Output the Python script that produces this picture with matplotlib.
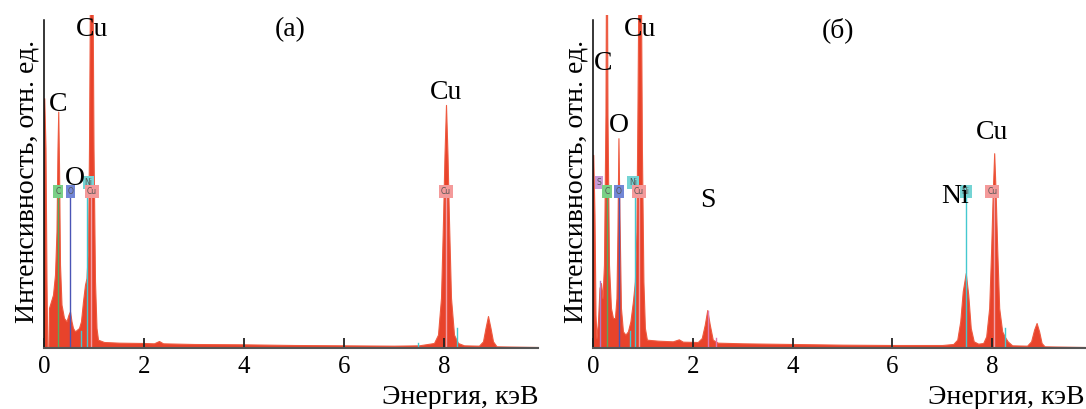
import matplotlib
matplotlib.use("Agg")
import matplotlib.pyplot as plt

plt.rcParams['font.family'] = ['Liberation Serif', 'DejaVu Serif']

# spectrum (a): energy, keV / intensity, arb. units (0..100 = axis height)
e_a = [0.0, 0.005, 0.03, 0.05, 0.065, 0.09, 0.10, 0.14, 0.18, 0.22, 0.25, 0.27,
       0.285, 0.30, 0.32, 0.35, 0.40, 0.45, 0.49, 0.52, 0.55, 0.58, 0.62, 0.66,
       0.70, 0.74, 0.78, 0.82, 0.85, 0.88, 0.90, 0.92, 0.97, 0.99, 1.02, 1.05,
       1.08, 1.2, 1.5, 2.0, 2.2, 2.3, 2.38, 3.0, 4.0, 5.0, 6.0, 7.0, 7.5, 7.8,
       7.88, 7.94, 7.98, 8.01, 8.04, 8.07, 8.10, 8.14, 8.20, 8.28, 8.4, 8.7,
       8.78, 8.83, 8.88, 8.93, 8.98, 9.05, 9.88]
i_a = [0, 75, 60, 20, 0, 0, 12, 14, 16, 22, 35, 60,
       71, 55, 25, 13, 9, 8, 10, 11, 8, 6, 5, 5.5,
       6, 8, 14, 19, 21, 30, 60, 110, 110, 60, 20, 6,
       2.5, 1.8, 1.6, 1.5, 1.4, 2.1, 1.4, 1.2, 1.1, 0.9, 0.8, 0.7, 0.8, 1.5,
       4, 15, 38, 58, 73, 58, 38, 15, 4, 1.5, 0.8, 0.7,
       2, 6, 9.6, 6, 2, 0.5, 0.3]

# spectrum (б)
e_b = [0.0, 0.005, 0.03, 0.05, 0.07, 0.10, 0.13, 0.16, 0.19, 0.22, 0.25, 0.26,
       0.28, 0.29, 0.32, 0.36, 0.40, 0.44, 0.47, 0.49, 0.51, 0.53, 0.56, 0.60,
       0.65, 0.70, 0.75, 0.80, 0.84, 0.87, 0.89, 0.91, 0.96, 0.98, 1.01, 1.04,
       1.08, 1.3, 1.6, 1.72, 1.8, 2.1, 2.18, 2.24, 2.29, 2.34, 2.40, 2.5, 3.0,
       4.0, 5.0, 6.0, 7.0, 7.22, 7.30, 7.36, 7.41, 7.47, 7.52, 7.57, 7.63, 7.72,
       7.82, 7.88, 7.94, 7.98, 8.01, 8.04, 8.07, 8.10, 8.14, 8.20, 8.26, 8.31,
       8.40, 8.7, 8.78, 8.84, 8.89, 8.94, 8.99, 9.05, 9.86]
i_b = [0, 58, 40, 10, 3, 8, 18, 19.5, 15, 25, 70, 110,
       110, 70, 25, 12, 9, 9, 15, 35, 63, 40, 12, 5,
       4, 5, 8, 14, 20, 35, 70, 110, 110, 60, 20, 6,
       2.5, 2.2, 2.0, 2.6, 1.9, 1.8, 3, 7, 11.4, 7, 2.5, 1.6, 1.4,
       1.2, 1.0, 0.9, 0.9, 1.2, 2.5, 8, 17, 22.5, 16, 6, 2, 1.3,
       1.5, 3.5, 12, 30, 46, 58.5, 46, 30, 12, 5, 3.2, 2,
       0.8, 0.7, 2, 5.5, 7.5, 5, 1.5, 0.5, 0.3]

# element marker lines: energy, top, colour
lines_a = [(0.277, 46, '#5aa95a'), (0.525, 46, '#4a55b5'), (0.743, 5, '#45c8d0'),
           (0.851, 46, '#45c8d0'), (0.93, 46, '#f2a0a8'), (7.47, 1.5, '#45c8d0'),
           (8.04, 46, '#f2a0a8'), (8.26, 6, '#45c8d0')]
lines_b = [(0.149, 20, '#b07ac8'), (0.277, 46, '#5aa95a'), (0.525, 46, '#4a55b5'),
           (0.743, 5, '#45c8d0'), (0.851, 46, '#45c8d0'), (0.93, 46, '#f2a0a8'),
           (2.31, 11, '#e07ab0'), (2.46, 3, '#e07ab0'), (7.47, 46, '#45c8d0'),
           (8.04, 46, '#f2a0a8'), (8.26, 6, '#45c8d0')]

# marker boxes: energy, level, text, colour
boxes_a = [(0.28, 47.1, 'C', '#79cf86'), (0.53, 47.1, 'O', '#7286d6'),
           (0.89, 49.6, 'Ni', '#74d4d4'), (0.96, 47.1, 'Cu', '#f49a9a'),
           (8.04, 47.1, 'Cu', '#f49a9a')]
boxes_b = [(0.12, 49.6, 'S', '#c99ad8'), (0.28, 47.1, 'C', '#79cf86'),
           (0.52, 47.1, 'O', '#7286d6'), (0.80, 49.6, 'Ni', '#74d4d4'),
           (0.92, 47.1, 'Cu', '#f49a9a'), (7.47, 47.1, 'Ni', '#74d4d4'),
           (8.0, 47.1, 'Cu', '#f49a9a')]

# peak labels: x, y, text
labels_a = [(0.96, 95.5, 'Cu'), (0.28, 73, 'C'), (0.61, 51, 'O'),
            (8.04, 76.6, 'Cu'), (4.92, 95.5, '(а)')]
labels_b = [(0.94, 95.5, 'Cu'), (0.21, 85.3, 'C'), (0.52, 66.7, 'O'),
            (2.3, 44.4, 'S'), (7.25, 45.6, 'Ni'), (8.0, 64.6, 'Cu'),
            (4.91, 95.5, '(б)')]

xmax = [9.88, 9.86]
red = '#e8432b'

fig = plt.figure(figsize=(10.86, 4.09), dpi=100)
ax1 = fig.add_axes([44 / 1086, 61 / 409, 494 / 1086, 333 / 409])
ax2 = fig.add_axes([593 / 1086, 61 / 409, 492 / 1086, 333 / 409])

panels = [(ax1, e_a, i_a, lines_a, boxes_a, labels_a),
          (ax2, e_b, i_b, lines_b, boxes_b, labels_b)]

for k, (ax, e, inten, lns, bxs, lbs) in enumerate(panels):
    ax.fill_between(e, inten, 0, color=red, lw=0.8, edgecolor='#ee5a40', zorder=2)
    for x, top, c in lns:
        ax.plot([x, x], [0, top], color=c, lw=1.0, zorder=3)
    for x, y, t, c in bxs:
        ax.text(x, y, t, fontsize=5.5, family='DejaVu Sans', color='#555555',
                ha='center', va='center', zorder=5,
                bbox=dict(boxstyle='square,pad=0.25', fc=c, ec='none'))
    for x, y, t in lbs:
        ax.text(x, y, t, fontsize=20, ha='center', va='center', zorder=6)

    ax.set_xlim(0, xmax[k])
    ax.set_ylim(0, 100)
    ax.set_xticks([0, 2, 4, 6, 8])
    ax.set_yticks([])
    ax.tick_params(axis='x', direction='in', length=7, width=1.3,
                   labelsize=18, pad=6, color='#222222')
    for s in ['top', 'right']:
        ax.spines[s].set_visible(False)
    ax.spines['left'].set_bounds(0, 98.5)
    ax.spines['left'].set_linewidth(1.1)
    ax.spines['bottom'].set_linewidth(1.5)
    ax.spines['bottom'].set_color('#555555')
    ax.spines['bottom'].set_zorder(7)
    ax.set_axisbelow(False)
    ax.set_ylabel('Интенсивность, отн. ед.', fontsize=20, labelpad=3)
    ax.set_xlabel('Энергия, кэВ', fontsize=20, loc='right', labelpad=5)

fig.savefig('out.png', dpi=100)
